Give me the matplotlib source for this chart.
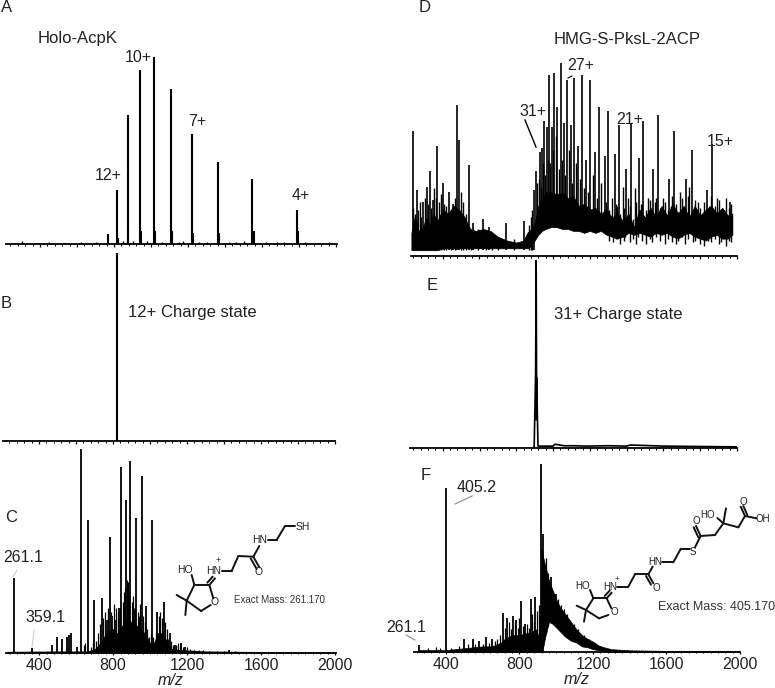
#!/usr/bin/env python

# --------------------------------------- Imports -------------------------------------
import matplotlib
matplotlib.use('Agg')
import matplotlib.pyplot as plt
from matplotlib.ticker import MultipleLocator

plt.rcParams['font.family'] = ['Liberation Sans', 'DejaVu Sans']

W, H = 775, 688

# --------------------------------------- Data -------------------------------------
# panel A, holo-AcpK
a_mz = [767, 816, 874, 939, 1016, 1108, 1221, 1362, 1546, 1787]
a_int = [5.5, 29, 69, 93, 100, 83, 59, 44, 35, 18]
a_tail_mz = [820, 878, 943, 1021, 1113, 1227, 1369, 1554, 1796]
a_tail_int = [3, 8, 7, 7, 7, 6, 6, 7, 7]
a_noise_mz = [240, 300, 370, 450, 530, 620, 700, 850, 900, 980, 1060, 1150, 1170, 1260, 1300, 1420,
              1460, 1500, 1620, 1680, 1720, 1830, 1900, 1960]
a_noise_int = [0.8, 1.4, 0.8, 1, 0.8, 1, 0.9, 1.5, 1.5, 1.5, 1.2, 1.3, 1.5, 1, 1.2, 1.2,
               1, 1.4, 1, 1.2, 1, 1.2, 0.8, 1]

# panel B, 12+ isolated
b_mz = [822]
b_int = [100]

# panel C, fragments of the 12+ ion
c_mz = [263, 359, 468, 497, 523, 550, 562, 571, 604, 627, 665, 697, 741, 766, 784, 796, 809,
        831, 845, 869, 894, 926, 955, 978, 1011, 1040, 1074, 1106, 1132, 1168, 1191, 1424]
c_int = [37, 2.6, 4, 8, 7, 8, 9, 10, 3, 100, 65, 26, 27, 16, 57, 18, 16,
         22, 91, 75, 94, 66, 87, 23, 65, 20, 25, 10, 4, 5, 3, 1.3]
c_band_mz = [230, 500, 660, 700, 740, 760, 780, 800, 820, 840, 860, 880, 900, 920, 940, 960,
             980, 1000, 1020, 1040, 1060, 1080, 1100, 1120, 1200, 1300, 1500, 2000]
c_band_top = [0.8, 1, 1, 2, 6, 10, 11, 12, 10, 12, 16, 18, 15, 14, 13, 11,
              9, 5, 5, 10, 10, 8, 4, 2, 1.5, 1, 0.8, 0.4]
c_small_mz = [640, 650, 680, 690, 710, 720, 730, 748, 755, 775, 790, 803, 815, 825, 838, 852, 858,
              863, 875, 880, 888, 900, 906, 912, 920, 932, 940, 948, 962, 970, 985, 995, 1003, 1018,
              1025, 1032, 1048, 1055, 1062, 1082, 1090, 1098, 1115, 1125, 1140, 1150, 1160, 1180,
              1200, 1215, 1240, 1262, 1285, 1320, 1360, 1400, 1460]
c_small_int = [4, 5, 3, 5, 6, 10, 14, 17, 20, 22, 20, 24, 22, 20, 22, 25, 30,
               32, 36, 35, 30, 25, 28, 22, 22, 20, 18, 24, 18, 15, 12, 8, 10, 8,
               6, 10, 18, 20, 17, 15, 12, 7, 6, 4, 4, 5, 3, 3,
               3, 2, 1.5, 1.5, 1.5, 1, 1, 1.2, 1]

# panel D, HMG-S-PksL-2ACP
d_mz = [237, 259, 295, 317, 331, 346, 371, 400, 434, 458, 478, 489, 541, 566, 617, 650, 746, 842,
        896, 907, 928, 939, 950, 965, 977, 992, 1006, 1024, 1043, 1059, 1075, 1097, 1113, 1135,
        1155, 1180, 1202, 1227, 1249, 1280, 1301, 1338, 1357, 1399, 1423, 1466, 1490, 1544, 1569,
        1629, 1656, 1725, 1754, 1835, 1866, 1960]
d_int = [65, 34, 28, 36, 44, 29, 57, 38, 33, 27, 78, 60, 47, 17, 19, 15, 17, 18,
         34, 44, 54, 56, 70, 67, 94, 67, 95, 77, 100, 69, 91, 68, 92, 57,
         94, 50, 91, 54, 77, 52, 75, 53, 68, 45, 69, 51, 70, 45, 73,
         40, 65, 40, 55, 34, 58, 28]
d_band_mz = [230, 250, 270, 290, 310, 330, 350, 370, 400, 430, 460, 490, 520, 550, 580, 620, 660,
             700, 750, 800, 840, 860, 880, 900, 920, 940, 960, 990, 1020, 1050, 1080, 1110, 1140,
             1170, 1200, 1230, 1260, 1290, 1320, 1350, 1380, 1410, 1440, 1470, 1500, 1530, 1560,
             1590, 1620, 1650, 1680, 1710, 1740, 1770, 1800, 1830, 1860, 1890, 1920, 1950, 1975]
d_band_top = [12, 21, 13, 14, 20, 16, 22, 18, 24, 22, 26, 24, 20, 14, 13, 14, 13,
              10, 8, 7, 8, 12, 14, 17, 26, 30, 33, 33, 32, 33, 30, 31, 26,
              27, 24, 25, 22, 24, 20, 22, 18, 22, 15, 24, 20, 25, 20,
              26, 21, 27, 22, 26, 20, 26, 21, 24, 26, 22, 25, 21, 22]
d_band_low = [3, 3, 3, 3, 3, 3, 3, 3, 4, 4, 4, 4, 4, 4, 4, 4, 4,
              4, 4, 4, 4, 4, 5, 8, 11, 13, 14, 15, 15, 14, 14, 13, 13,
              12, 13, 12, 13, 11, 10, 9, 10, 12, 11, 12, 11, 10, 12,
              11, 12, 10, 9, 11, 12, 10, 9, 8, 10, 11, 9, 9, 11]
d_spike_mz = [240, 248, 268, 278, 285, 304, 323, 338, 353, 362, 380, 390, 410, 420, 445, 468, 498, 510,
              525, 555, 590, 635, 670, 700, 790, 870, 880, 888,
              915, 922, 933, 945, 957, 971, 984, 999, 1015, 1033, 1051, 1067, 1086, 1105, 1124,
              1145, 1168, 1191, 1215, 1238, 1262, 1290, 1320, 1348, 1378, 1410, 1445, 1478, 1515,
              1555, 1600, 1640, 1690, 1740, 1790, 1850, 1890, 1930]
d_spike_int = [25, 22, 24, 28, 20, 30, 27, 25, 35, 30, 28, 32, 27, 26, 24, 30, 33, 28,
               22, 14, 14, 12, 12, 10, 9, 16, 20, 24,
               38, 40, 36, 48, 42, 50, 48, 55, 62, 45, 50, 42, 55, 38, 48,
               40, 35, 33, 42, 30, 38, 28, 30, 26, 36, 30, 35, 27, 30,
               28, 30, 26, 33, 36, 28, 26, 30, 24]
d_fine_mz = [1305, 1328, 1342, 1365, 1385, 1393, 1416, 1432, 1452, 1460, 1482, 1505, 1525, 1540, 1562,
             1580, 1610, 1625, 1648, 1668, 1680, 1702, 1718, 1735, 1760, 1772, 1800, 1822, 1842, 1858,
             1878, 1900, 1915, 1940, 1955, 1970]
d_fine_top = [24, 19, 27, 22, 25, 20, 26, 19, 28, 22, 27, 24, 29, 23, 30,
              25, 28, 24, 31, 27, 23, 30, 25, 31, 24, 29, 25, 28, 24, 31,
              26, 29, 24, 30, 25, 27]
d_fine_low = [8, 7, 9, 6, 8, 10, 7, 9, 6, 10, 8, 6, 9, 7, 10,
              8, 6, 9, 7, 6, 8, 10, 6, 9, 7, 8, 6, 5, 8, 7,
              9, 6, 7, 5, 8, 7]

# panel E, 31+ isolated
e_mz = [897, 905, 908, 910, 918, 960, 1000, 1010, 1060, 1110, 1180, 1300, 1400, 1420, 1600, 1800, 2000]
e_int = [0, 40, 100, 40, 1, 1, 1, 2, 1.2, 1.2, 1, 1.2, 1, 1.6, 1, 0.8, 0.6]

# panel F, fragments of the 31+ ion
f_mz = [255, 400, 498, 545, 581, 617, 648, 708, 733, 766, 780, 807, 829, 860, 887, 916, 929, 972, 1001]
f_int = [3.5, 87, 7, 7, 6, 8, 7, 21, 18, 19, 17, 27, 15, 28, 29, 100, 63, 40, 31]
f_low = [0, 0, 0, 0, 0, 0, 0, 0, 0, 0, 0, 0, 0, 0, 0, 0, 0, 16, 14]
f_band_mz = [250, 400, 500, 600, 650, 700, 720, 760, 800, 840, 870, 890, 905, 912, 920, 930, 940, 960,
             980, 1000, 1020, 1050, 1080, 1110, 1140, 1170, 1200, 1230, 1260, 1300, 1400, 1600, 2000]
f_band_top = [1, 1, 2, 3, 3, 5, 7, 9, 9, 10, 11, 12, 8, 3, 55, 50, 46, 38,
              33, 28, 24, 20, 16, 12, 9, 7, 5.5, 3.5, 2.5, 1.5, 0.9, 0.6, 0.4]
f_band_low = [0, 0, 0, 0, 0, 0, 0, 0, 0, 0, 0, 0, 0, 0, 0, 3, 8, 16,
              15, 13, 11, 8, 6, 5, 3, 2.5, 1.5, 1, 0.5, 0, 0, 0, 0]
f_spike_mz = [300, 345, 370, 430, 470, 520, 560, 600, 635, 665, 680, 695, 720, 745, 755, 775, 790, 800,
              818, 825, 840, 850, 870, 878, 895, 905, 912, 945, 955, 965, 985, 995, 1012, 1025, 1040,
              1060, 1075, 1095, 1120, 1150, 1180, 1210]
f_spike_int = [2, 2.5, 2, 2, 3, 4, 4, 4, 5, 6, 7, 9, 13, 16, 12, 16, 13, 18,
               14, 13, 15, 13, 20, 16, 22, 25, 20, 50, 42, 36, 32, 28, 28, 25, 23,
               20, 17, 15, 12, 9, 7, 5]
f_spike_low = [0, 0, 0, 0, 0, 0, 0, 0, 0, 0, 0, 0, 0, 0, 0, 0, 0, 0,
               0, 0, 0, 0, 0, 0, 0, 0, 0, 10, 14, 17, 16, 15, 13, 13, 10,
               9, 8, 7, 6, 5, 4, 3]

tick_labels = [400, 800, 1200, 1600, 2000]


# --------------------------------------- Helpers -------------------------------------
def panel(x0, x1, y_axis, y_top, xlim, labels=False):
    """ axes from pixel box, intensity 0-100 between y_axis and y_top """
    ax = fig.add_axes([x0 / W, 1 - y_axis / H, (x1 - x0) / W, (y_axis - y_top) / H])
    ax.set_xlim(*xlim)
    ax.set_ylim(0, 100)
    ax.patch.set_alpha(0)
    for s in ['top', 'left', 'right']:
        ax.spines[s].set_visible(False)
    ax.spines['bottom'].set_linewidth(1.3)
    ax.yaxis.set_visible(False)
    ax.xaxis.set_major_locator(MultipleLocator(200))
    ax.xaxis.set_minor_locator(MultipleLocator(40))
    ax.tick_params(axis='x', which='major', length=2.5, width=0.9, labelbottom=False)
    ax.tick_params(axis='x', which='minor', length=1.5, width=0.7)
    if labels:
        ax.set_xticks(tick_labels, labels=[str(t) for t in tick_labels], fontsize=11.5)
        ax.tick_params(axis='x', which='major', labelbottom=True, length=1.5, pad=2, labelcolor='#222222')
        ax.tick_params(axis='x', which='minor', length=1)
        ax.set_xlabel('m/z', style='italic', fontsize=11.5, labelpad=0, color='#222222')
    return ax


def bonds(ov, segs, ox, oy):
    for (xa, ya, xb, yb) in segs:
        ov.plot([ox + xa / 3, ox + xb / 3], [oy + ya / 3, oy + yb / 3], color='#111111', lw=1.4,
                solid_capstyle='round')


# --------------------------------------- Run -------------------------------------
fig = plt.figure(figsize=(W / 100, H / 100), dpi=100)

ax_a = panel(6, 337, 244, 57, (216, 2005))
ax_a.vlines(a_mz, 0, a_int, color='black', lw=1.5)
ax_a.vlines(a_tail_mz, 0, a_tail_int, color='black', lw=1.5)
ax_a.vlines(a_noise_mz, 0, a_noise_int, color='black', lw=1)

ax_b = panel(3, 335, 441, 253, (205, 2000))
ax_b.vlines(b_mz, 0, b_int, color='black', lw=1.5)

ax_c = panel(6, 336, 653, 449, (221, 2005), labels=True)
ax_c.fill_between(c_band_mz, 0, c_band_top, color='black', lw=0)
ax_c.vlines(c_small_mz, 0, c_small_int, color='black', lw=0.9)
ax_c.vlines(c_mz, 0, c_int, color='black', lw=1.3)

# above 900 the peaks stand on the noise band, not on the axis
ax_d = panel(411, 737, 256, 63, (228, 2000))
ax_d.fill_between(d_band_mz, d_band_low, d_band_top, color='black', lw=0.5)
ax_d.vlines(d_spike_mz, [3 if m < 900 else 15 for m in d_spike_mz], d_spike_int, color='black', lw=1.0)
ax_d.vlines(d_fine_mz, d_fine_low, d_fine_top, color='black', lw=1.0)
ax_d.vlines(d_mz, [3 if m < 900 else 15 for m in d_mz], d_int, color='black', lw=1.2)

ax_e = panel(410, 737, 448, 260, (222, 2000))
ax_e.plot(e_mz, e_int, color='black', lw=1.2)
ax_e.vlines([908], 15, 38, color='black', lw=2)

ax_f = panel(414, 740, 652, 464, (226, 2000), labels=True)
ax_f.fill_between(f_band_mz, f_band_low, f_band_top, color='black', lw=0.5)
ax_f.vlines(f_spike_mz, f_spike_low, f_spike_int, color='black', lw=0.9)
ax_f.vlines(f_mz, f_low, f_int, color='black', lw=1.3)

# overlay in image pixels for texts and the two structures
ov = fig.add_axes([0, 0, 1, 1])
ov.set_xlim(0, W)
ov.set_ylim(H, 0)
ov.axis('off')
ov.patch.set_alpha(0)

c_bonds = [(575, 405, 583, 435), (583, 435, 628, 435), (628, 435, 640, 475), (632, 495, 603, 513),
           (603, 513, 560, 482), (560, 482, 583, 435), (560, 482, 530, 465), (560, 482, 556, 525),
           (628, 435, 645, 415), (622, 428, 638, 410), (665, 393, 695, 393), (695, 393, 715, 348),
           (715, 348, 760, 350), (760, 350, 778, 318), (760, 350, 778, 382), (752, 355, 770, 387),
           (803, 300, 830, 300), (830, 300, 855, 258), (855, 258, 885, 258)]
bonds(ov, c_bonds, 0, 440)

f_bonds = [(600, 450, 610, 475), (610, 475, 650, 475), (650, 475, 664, 505), (655, 525, 627, 535),
           (627, 535, 588, 510), (588, 510, 610, 475), (588, 510, 560, 497), (588, 510, 582, 545),
           (650, 475, 665, 458), (644, 468, 659, 452), (682, 440, 715, 440), (715, 440, 735, 403),
           (735, 403, 775, 403), (775, 403, 788, 380), (775, 403, 790, 430), (768, 408, 783, 434),
           (815, 367, 850, 367), (850, 367, 872, 327), (872, 327, 900, 327), (915, 322, 932, 288),
           (932, 288, 975, 285), (932, 288, 918, 258), (925, 292, 911, 262), (975, 285, 1000, 250),
           (1000, 250, 982, 234), (1000, 250, 1008, 205), (1000, 250, 1045, 262),
           (1045, 262, 1065, 228), (1065, 228, 1100, 235), (1065, 228, 1052, 200), (1072, 225, 1060, 198)]
bonds(ov, f_bonds, 390, 440)

# leader lines
ov.plot([17, 13], [570, 577], color='#cccccc', lw=0.7)
ov.plot([34, 32], [630, 647], color='#cccccc', lw=0.7)
ov.plot([472, 455], [496, 504], color='#888888', lw=0.8)
ov.plot([406, 415], [635, 640], color='#888888', lw=0.8)
ov.plot([525, 536], [120, 147], color='black', lw=1.0)
ov.plot([568, 572], [78, 76], color='black', lw=0.8)

big = 12
mid = 11.5
texts = [('A', 1, 8, big), ('Holo-AcpK', 38, 38, big), ('10+', 125, 57, mid), ('7+', 188, 122, mid),
         ('12+', 95, 176, mid), ('4+', 292, 195, mid),
         ('D', 419, 7, big), ('HMG-S-PksL-2ACP', 554, 40, big), ('27+', 567, 65, mid), ('31+', 519, 111, mid),
         ('21+', 616, 119, mid), ('15+', 707, 141, mid),
         ('B', 1, 303, big), ('12+ Charge state', 128, 312, big),
         ('E', 427, 285, big), ('31+ Charge state', 554, 315, big),
         ('C', 5, 518, big), ('261.1', 3, 558, mid), ('359.1', 25, 617, mid),
         ('F', 421, 475, big), ('405.2', 457, 487, mid), ('261.1', 386, 628, mid)]
for t, x, y, fs in texts:
    ov.text(x, y, t, fontsize=fs, ha='left', va='center', color='#222222')

small = [('HO', 185, 570, 7.5), ('HN', 214, 571, 7.5), ('+', 218, 561, 6.5), ('O', 215, 602, 7.5),
         ('O', 259, 572, 7.5), ('HN', 260, 540, 7.5), ('SH', 303, 527, 7.5),
         ('HO', 583, 586, 7), ('HN', 610, 587, 7), ('+', 617, 579, 6), ('O', 614, 612, 7),
         ('O', 656, 588, 7), ('HN', 655, 562, 7), ('S', 693, 552, 7), ('O', 696, 521, 7),
         ('HO', 708, 515, 7), ('O', 743, 502, 7), ('OH', 763, 519, 7)]
for t, x, y, fs in small:
    ov.text(x, y, t, fontsize=fs, ha='center', va='center', color='#222222')
ov.text(234, 600, 'Exact Mass: 261.170', fontsize=7, ha='left', va='center', color='#333333')
ov.text(658, 607, 'Exact Mass: 405.170', fontsize=9, ha='left', va='center', color='#333333')

fig.savefig('out.png', dpi=100)
